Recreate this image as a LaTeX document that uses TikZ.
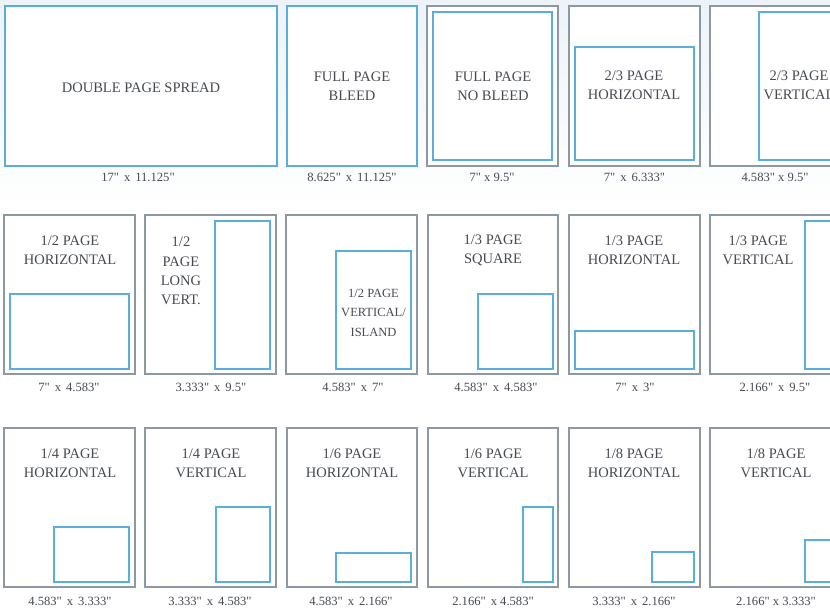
\documentclass[tikz,border=0pt]{standalone}
\usepackage{fontspec}
\setmainfont{Liberation Serif}[Ligatures=TeXOff]
\usetikzlibrary{fit}
\definecolor{pagegray}{HTML}{8C99A5}
\definecolor{adblue}{HTML}{5AADDF}
\definecolor{txt}{HTML}{464B52}
\definecolor{bgblue}{HTML}{EDF3F9}
\tikzset{
  page/.style={draw=pagegray, fill=white, line width=1.6pt, inner sep=0pt},
  ad/.style={draw=adblue, fill=white, line width=1.6pt, inner sep=0pt},
  title/.style={text=txt, font=\fontsize{14.5}{19.3}\selectfont, align=center, inner sep=0pt},
  small title/.style={text=txt, font=\fontsize{12.5}{19.5}\selectfont, align=center, inner sep=0pt},
  dim/.style={text=txt, font=\fontsize{12.6}{14}\selectfont, inner sep=0pt},
}
\newcommand{\gapsp}{\hspace{5pt}}
\begin{document}
\begin{tikzpicture}[x=1pt,y=-1pt]
\useasboundingbox (0,0) rectangle (830,608);
\clip (0,0) rectangle (830,608);
\fill[white] (0,0) rectangle (830,608);
\fill[top color=bgblue, bottom color=white] (0,0) rectangle (830,210);
% ---------- Row 1 ----------
\node[ad, fit={(5,6) (277,166)}] (dps) {};
\node[title] (dpsT) at (141,88) {DOUBLE PAGE SPREAD};
\node[dim] (dpsD) at (138,177) {17"\gapsp x\gapsp 11.125"};

\node[ad, fit={(287,6) (417,166)}] (fpb) {};
\node[title] (fpbT) at (352,86.5) {FULL PAGE\\BLEED};
\node[dim] (fpbD) at (352,177) {8.625"\gapsp x\gapsp 11.125"};

\node[page, fit={(427,6) (558,166)}] (fpn) {};
\node[ad, fit={(433,12) (552,160)}] (fpnA) {};
\node[title] (fpnT) at (493,86.5) {FULL PAGE\\NO BLEED};
\node[dim] (fpnD) at (492,177) {7" x 9.5"};

\node[page, fit={(569,6) (700,166)}] (tth) {};
\node[ad, fit={(575,47) (694,160)}] (tthA) {};
\node[title] (tthT) at (634,85.5) {2/3 PAGE\\HORIZONTAL};
\node[dim] (tthD) at (634.5,177) {7"\gapsp x\gapsp 6.333"};

\node[page, fit={(710,6) (841,166)}] (ttv) {};
\node[ad, fit={(759,12) (835,160)}] (ttvA) {};
\node[title] (ttvT) at (799,85.5) {2/3 PAGE\\VERTICAL};
\node[dim] (ttvD) at (775,177) {4.583" x 9.5"};
% ---------- Row 2 ----------
\node[page, fit={(4,215) (135,374)}] (hh) {};
\node[ad, fit={(10,294) (129,369)}] (hhA) {};
\node[title] (hhT) at (70,250.5) {1/2 PAGE\\HORIZONTAL};
\node[dim] (hhD) at (69,387) {7"\gapsp x\gapsp 4.583"};

\node[page, fit={(145,215) (276,374)}] (hl) {};
\node[ad, fit={(215,221) (270,369)}] (hlA) {};
\node[title] (hlT) at (181,271) {1/2\\PAGE\\LONG\\VERT.};
\node[dim] (hlD) at (211,387) {3.333"\gapsp x\gapsp 9.5"};

\node[page, fit={(286,215) (417,374)}] (hv) {};
\node[ad, fit={(336,251) (411,369)}] (hvA) {};
\node[small title] (hvT) at (373.5,312.5) {1/2 PAGE\\VERTICAL/\\ISLAND};
\node[dim] (hvD) at (353,387) {4.583"\gapsp x\gapsp 7"};

\node[page, fit={(428,215) (558,374)}] (ts) {};
\node[ad, fit={(478,294) (553,369)}] (tsA) {};
\node[title] (tsT) at (493,250.5) {1/3 PAGE\\SQUARE};
\node[dim] (tsD) at (496,387) {4.583"\gapsp x\gapsp 4.583"};

\node[page, fit={(569,215) (700,374)}] (th) {};
\node[ad, fit={(575,331) (694,369)}] (thA) {};
\node[title] (thT) at (634,250.5) {1/3 PAGE\\HORIZONTAL};
\node[dim] (thD) at (635,387) {7"\gapsp x\gapsp 3"};

\node[page, fit={(710,215) (841,374)}] (tv) {};
\node[ad, fit={(805,221) (835,369)}] (tvA) {};
\node[title] (tvT) at (758,250.5) {1/3 PAGE\\VERTICAL};
\node[dim] (tvD) at (775,387) {2.166"\gapsp x\gapsp 9.5"};
% ---------- Row 3 ----------
\node[page, fit={(4,428) (135,587)}] (qh) {};
\node[ad, fit={(54,527) (129,582)}] (qhA) {};
\node[title] (qhT) at (70,463.5) {1/4 PAGE\\HORIZONTAL};
\node[dim] (qhD) at (70,601) {4.583"\gapsp x\gapsp 3.333"};

\node[page, fit={(145,428) (276,587)}] (qv) {};
\node[ad, fit={(216,507) (270,582)}] (qvA) {};
\node[title] (qvT) at (211,463.5) {1/4 PAGE\\VERTICAL};
\node[dim] (qvD) at (210,601) {3.333"\gapsp x\gapsp 4.583"};

\node[page, fit={(287,428) (417,587)}] (sh) {};
\node[ad, fit={(336,553) (411,582)}] (shA) {};
\node[title] (shT) at (352,463.5) {1/6 PAGE\\HORIZONTAL};
\node[dim] (shD) at (351,601) {4.583"\gapsp x\gapsp 2.166"};

\node[page, fit={(428,428) (558,587)}] (sv) {};
\node[ad, fit={(523,507) (553,582)}] (svA) {};
\node[title] (svT) at (493,463.5) {1/6 PAGE\\VERTICAL};
\node[dim] (svD) at (493,601) {2.166"\gapsp x 4.583"};

\node[page, fit={(569,428) (700,587)}] (eh) {};
\node[ad, fit={(652,552) (694,582)}] (ehA) {};
\node[title] (ehT) at (634,463.5) {1/8 PAGE\\HORIZONTAL};
\node[dim] (ehD) at (634,601) {3.333"\gapsp x\gapsp 2.166"};

\node[page, fit={(710,428) (841,587)}] (ev) {};
\node[ad, fit={(805,540) (835,582)}] (evA) {};
\node[title] (evT) at (776,463.5) {1/8 PAGE\\VERTICAL};
\node[dim] (evD) at (776,601) {2.166" x 3.333"};
\end{tikzpicture}
\end{document}
